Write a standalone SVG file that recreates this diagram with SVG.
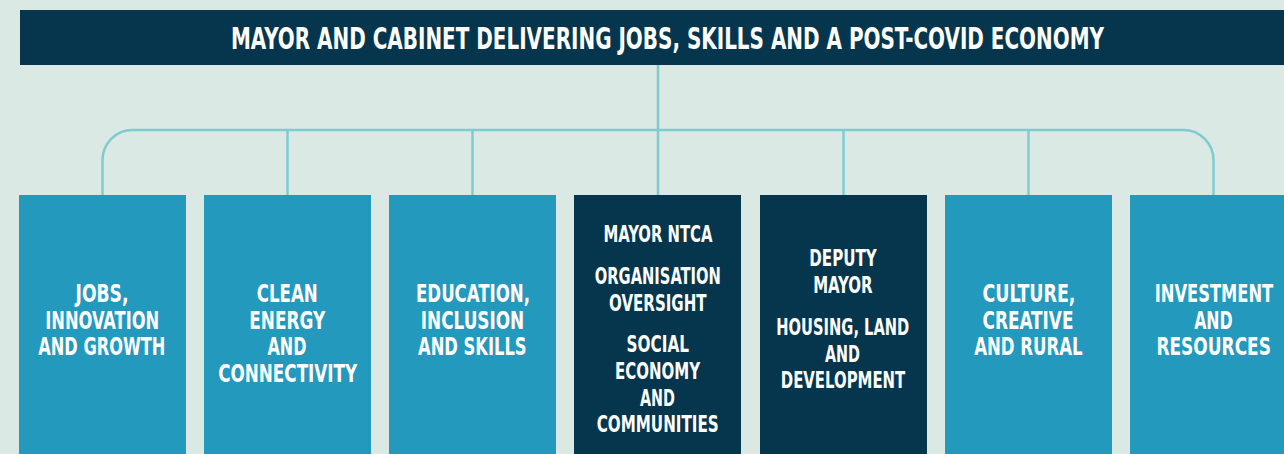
<svg xmlns="http://www.w3.org/2000/svg" width="1284" height="454" viewBox="0 0 1284 454">
<style>
.bg{fill:#DAE9E4}
.dark{fill:#06364D}
.light{fill:#2499BE}
.t{font-family:"DejaVu Sans Condensed","DejaVu Sans","Liberation Sans",sans-serif;font-weight:bold;fill:#ffffff;text-anchor:middle}
.h{font-size:30px}
.l{font-size:25px}
.d{font-size:23.5px}
.c{fill:none;stroke:#7FCCD0;stroke-width:2.5}
</style>
<rect class="bg" x="0" y="0" width="1284" height="454"/>
<g id="connectors">
<path class="c" d="M658 65 V195"/>
<path class="c" d="M102.5 195 V160 A30 30 0 0 1 132.5 130 H1183.5 A30 30 0 0 1 1213.5 160 V195"/>
<path class="c" d="M287.5 130 V195"/>
<path class="c" d="M472.5 130 V195"/>
<path class="c" d="M843.5 130 V195"/>
<path class="c" d="M1028.5 130 V195"/>
</g>
<g id="header">
<rect class="dark" x="20" y="10" width="1264" height="55"/>
<text class="t h" x="667.5" y="49.3" textLength="873" lengthAdjust="spacingAndGlyphs">MAYOR AND CABINET DELIVERING JOBS, SKILLS AND A POST-COVID ECONOMY</text>
</g>
<g id="jobs">
<rect class="light" x="19" y="195" width="167" height="259"/>
<text class="t l" x="102" y="301.7" textLength="53" lengthAdjust="spacingAndGlyphs">JOBS,</text>
<text class="t l" x="102.2" y="328.5" textLength="114" lengthAdjust="spacingAndGlyphs">INNOVATION</text>
<text class="t l" x="101.8" y="355" textLength="127" lengthAdjust="spacingAndGlyphs">AND GROWTH</text>
</g>
<g id="clean">
<rect class="light" x="204" y="195" width="167" height="259"/>
<text class="t l" x="287.2" y="301.7" textLength="61" lengthAdjust="spacingAndGlyphs">CLEAN</text>
<text class="t l" x="287.2" y="328.5" textLength="76" lengthAdjust="spacingAndGlyphs">ENERGY</text>
<text class="t l" x="287" y="355" textLength="39" lengthAdjust="spacingAndGlyphs">AND</text>
<text class="t l" x="287.7" y="381.7" textLength="139" lengthAdjust="spacingAndGlyphs">CONNECTIVITY</text>
</g>
<g id="education">
<rect class="light" x="389" y="195" width="167" height="259"/>
<text class="t l" x="473" y="301.7" textLength="114" lengthAdjust="spacingAndGlyphs">EDUCATION,</text>
<text class="t l" x="472.5" y="328.5" textLength="103.5" lengthAdjust="spacingAndGlyphs">INCLUSION</text>
<text class="t l" x="472.3" y="355" textLength="108.5" lengthAdjust="spacingAndGlyphs">AND SKILLS</text>
</g>
<g id="mayor-ntca">
<rect class="dark" x="574" y="195" width="167" height="259"/>
<text class="t d" x="658" y="241.7" textLength="109" lengthAdjust="spacingAndGlyphs">MAYOR NTCA</text>
<text class="t d" x="657.8" y="284" textLength="126" lengthAdjust="spacingAndGlyphs">ORGANISATION</text>
<text class="t d" x="657.8" y="310.7" textLength="97.5" lengthAdjust="spacingAndGlyphs">OVERSIGHT</text>
<text class="t d" x="657.8" y="351.7" textLength="62.5" lengthAdjust="spacingAndGlyphs">SOCIAL</text>
<text class="t d" x="657.6" y="379" textLength="85" lengthAdjust="spacingAndGlyphs">ECONOMY</text>
<text class="t d" x="657.5" y="405.7" textLength="35" lengthAdjust="spacingAndGlyphs">AND</text>
<text class="t d" x="657.7" y="431.7" textLength="122" lengthAdjust="spacingAndGlyphs">COMMUNITIES</text>
</g>
<g id="deputy-mayor">
<rect class="dark" x="760" y="195" width="167" height="259"/>
<text class="t d" x="843" y="266" textLength="67.5" lengthAdjust="spacingAndGlyphs">DEPUTY</text>
<text class="t d" x="842.9" y="293.3" textLength="59.5" lengthAdjust="spacingAndGlyphs">MAYOR</text>
<text class="t d" x="842.8" y="335" textLength="133" lengthAdjust="spacingAndGlyphs">HOUSING, LAND</text>
<text class="t d" x="842.5" y="361.7" textLength="35" lengthAdjust="spacingAndGlyphs">AND</text>
<text class="t d" x="843" y="388.3" textLength="124.5" lengthAdjust="spacingAndGlyphs">DEVELOPMENT</text>
</g>
<g id="culture">
<rect class="light" x="945" y="195" width="167" height="259"/>
<text class="t l" x="1029" y="301.7" textLength="93" lengthAdjust="spacingAndGlyphs">CULTURE,</text>
<text class="t l" x="1028" y="328.5" textLength="91" lengthAdjust="spacingAndGlyphs">CREATIVE</text>
<text class="t l" x="1028.4" y="355" textLength="108.5" lengthAdjust="spacingAndGlyphs">AND RURAL</text>
</g>
<g id="investment">
<rect class="light" x="1130" y="195" width="167" height="259"/>
<text class="t l" x="1214" y="301.7" textLength="118.5" lengthAdjust="spacingAndGlyphs">INVESTMENT</text>
<text class="t l" x="1213.4" y="328.5" textLength="38.5" lengthAdjust="spacingAndGlyphs">AND</text>
<text class="t l" x="1213.7" y="355" textLength="114.5" lengthAdjust="spacingAndGlyphs">RESOURCES</text>
</g>
</svg>
